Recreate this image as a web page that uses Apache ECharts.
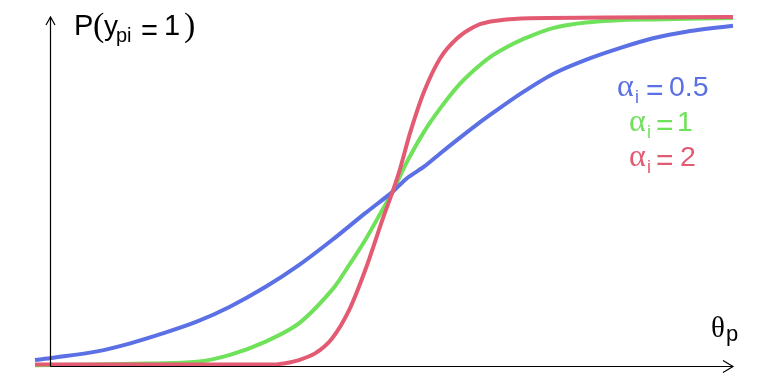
<!DOCTYPE html>
<html>
<head>
<meta charset="utf-8">
<script src="https://cdn.jsdelivr.net/npm/echarts@6/dist/echarts.min.js"></script>
<style>
html,body{margin:0;padding:0;background:#fff;}
#c{width:768px;height:384px;}
</style>
</head>
<body>
<div id="c"></div>
<script>
// Ability theta (x) and probability P(y=1) (y)
const thetaBlue = [-4.20,-4.01,-3.47,-3.08,-2.69,-2.30,-1.91,-1.49,-1.10,-0.71,-0.32,0.00,0.17,0.37,0.56,0.76,0.96,1.15,1.51,1.88,2.27,2.66,3.06,3.45,4.00];
const probBlue  = [0.017,0.023,0.042,0.065,0.094,0.127,0.170,0.227,0.289,0.361,0.438,0.499,0.538,0.571,0.609,0.648,0.686,0.720,0.781,0.836,0.877,0.910,0.939,0.958,0.975];

const thetaGreen = [-4.20,-2.89,-2.30,-1.91,-1.49,-1.10,-0.71,-0.51,-0.32,-0.12,0.00,0.17,0.37,0.56,0.76,0.96,1.15,1.35,1.51,1.88,2.27,2.66,3.06,4.00];
const probGreen  = [0.002,0.007,0.012,0.032,0.070,0.122,0.218,0.289,0.361,0.447,0.499,0.585,0.671,0.738,0.800,0.848,0.886,0.915,0.934,0.968,0.984,0.991,0.993,0.997];

const thetaRed = [-4.20,-1.40,-1.26,-1.10,-0.91,-0.71,-0.51,-0.32,-0.12,0.00,0.09,0.21,0.37,0.56,0.76,0.96,1.15,1.51,4.00];
const probRed  = [0.004,0.004,0.008,0.017,0.036,0.079,0.160,0.275,0.418,0.499,0.566,0.671,0.786,0.882,0.939,0.972,0.987,0.996,1.000];

const seriesNames = ['α = 0.5','α = 1','α = 2'];
const alphaLabels = ['0.5','1','2'];
const axisTheta = [-4.02, 4.0];
const axisProb = [0, 1];

const BLUE = '#5b70e4', GREEN = '#70e15a', RED = '#e35b72';

function pairs(xs, ys){ return xs.map((x,i)=>[x, ys[i]]); }

const chart = echarts.init(document.getElementById('c'), null, {renderer:'canvas'});
const lineSeries = (name, data, color) => ({
  name, type:'line', data, symbol:'none', smooth:0.3,
  lineStyle:{color, width:4, cap:'butt', join:'round'}, itemStyle:{color}, silent:true
});
chart.setOption({
  animation:false,
  backgroundColor:'#fff',
  grid:{left:35,right:35,top:17,bottom:18},
  xAxis:{type:'value',min:-4.2,max:4.0,show:false},
  yAxis:{type:'value',min:0,max:1,show:false},
  series:[
    lineSeries(seriesNames[1], pairs(thetaGreen, probGreen), GREEN),
    lineSeries(seriesNames[0], pairs(thetaBlue, probBlue), BLUE),
    lineSeries(seriesNames[2], pairs(thetaRed, probRed), RED)
  ]
});

const o = chart.convertToPixel({gridIndex:0}, [axisTheta[0], axisProb[0]]);
const xe = chart.convertToPixel({gridIndex:0}, [axisTheta[1], axisProb[0]]);
const ye = chart.convertToPixel({gridIndex:0}, [axisTheta[0], axisProb[1]]);
const ox = Math.round(o[0]) + 0.5, oy = Math.round(o[1]) + 0.5;

const SANS = '"Liberation Sans", Arial, sans-serif';
const SERIF = '"Liberation Serif", "Times New Roman", serif';
function txt(text, x, baseline, size, family, color){
  return {type:'text', z:100, style:{text, x, y: baseline - 0.3*size, font: size + 'px ' + family,
    fill: color, textAlign:'left', textVerticalAlign:'middle'}};
}
const stroke = {stroke:'#000', lineWidth:1.2, fill:null};
const g = [
  {type:'line', z:90, shape:{x1:ox, y1:oy, x2:ox, y2:ye[1]}, style:stroke},
  {type:'line', z:90, shape:{x1:ox, y1:oy, x2:xe[0], y2:oy}, style:stroke},
  {type:'polyline', z:90, shape:{points:[[ox-4.5,ye[1]+8],[ox,ye[1]],[ox+4.5,ye[1]+8]]}, style:stroke},
  {type:'polyline', z:90, shape:{points:[[xe[0]-10,oy-6],[xe[0],oy],[xe[0]-10,oy+6]]}, style:stroke},
  // P(y_pi = 1)
  txt('P', 74, 36, 29, SANS, '#000'),
  txt('(', 93, 37, 34, SERIF, '#000'),
  txt('y', 104, 36, 28, SANS, '#000'),
  txt('pi', 116, 42, 20, SANS, '#000'),
  txt('=', 141, 41, 29, SANS, '#000'),
  txt('1', 164, 36, 29, SANS, '#000'),
  txt(')', 184, 37, 34, SERIF, '#000'),
  // theta_p
  txt('θ', 711, 338, 29, SERIF, '#000'),
  txt('p', 726, 342, 22, SANS, '#000')
];
const legendRows = [
  {c:BLUE, ax:617, ix:635, ex:646, vx:669, b:96.7},
  {c:GREEN, ax:629, ix:647, ex:656, vx:677, b:131.7},
  {c:RED, ax:629, ix:647, ex:656, vx:680, b:166.7}
];
legendRows.forEach((r,i)=>{
  g.push(txt('α', r.ax, r.b, 32, SERIF, r.c));
  g.push(txt('i', r.ix, r.b+6.3, 18, SANS, r.c));
  g.push(txt('=', r.ex, r.b+4.3, 30, SANS, r.c));
  g.push(txt(alphaLabels[i], r.vx, r.b, 28.5, SANS, r.c));
});
chart.setOption({graphic:g});
</script>
</body>
</html>
